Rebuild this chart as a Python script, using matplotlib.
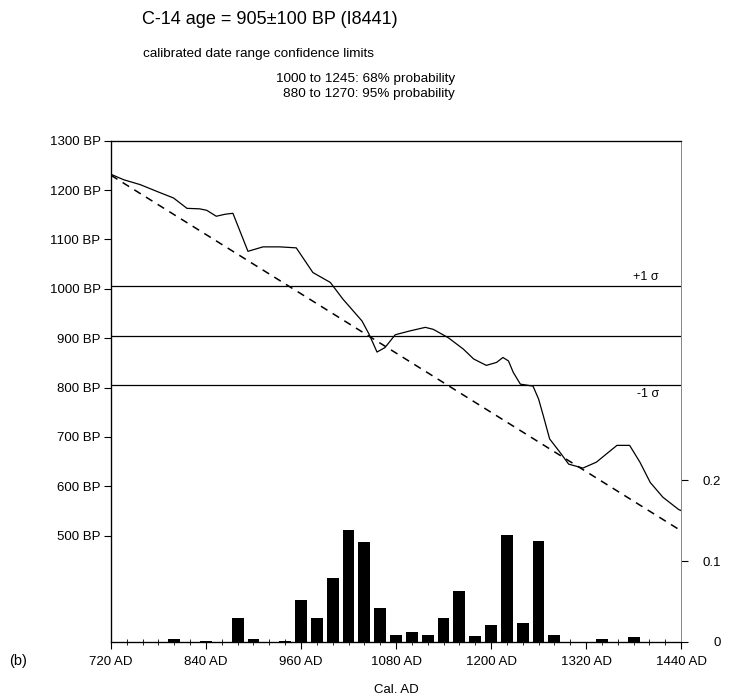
import numpy as np
import matplotlib
matplotlib.use("Agg")
import matplotlib.pyplot as plt
from matplotlib.ticker import MultipleLocator

plt.rcParams['font.family'] = ['Liberation Sans', 'DejaVu Sans']

# calibration curve (cal AD -> radiocarbon BP)
cal_ad = [720, 736, 757, 780, 799, 816, 832, 841, 853, 864, 874, 893, 912, 933,
          954, 975, 997, 1013, 1037, 1046, 1056, 1066, 1079, 1098, 1117, 1127,
          1146, 1165, 1178, 1194, 1207, 1215, 1222, 1228, 1237, 1253, 1260, 1266,
          1274, 1287, 1298, 1316, 1333, 1346, 1359, 1375, 1388, 1401, 1417, 1437, 1440]
curve_bp = [1232, 1221, 1211, 1196, 1184, 1163, 1162, 1159, 1147, 1151, 1153, 1076,
            1085, 1085, 1083, 1033, 1013, 979, 935, 908, 872, 881, 907, 915, 922, 918,
            901, 878, 858, 845, 851, 861, 854, 831, 807, 803, 777, 743, 696, 669, 645,
            637, 649, 666, 683, 683, 649, 608, 578, 553, 551]

# probability histogram (20-year bins)
bar_ad = [800, 840, 880, 900, 940, 960, 980, 1000, 1020, 1040, 1060, 1080, 1100,
          1120, 1140, 1160, 1180, 1200, 1220, 1240, 1260, 1280, 1340, 1380]
bar_prob = [0.003, 0.001, 0.030, 0.003, 0.001, 0.052, 0.030, 0.079, 0.138, 0.123,
            0.042, 0.008, 0.0125, 0.008, 0.030, 0.063, 0.0077, 0.021, 0.132, 0.023,
            0.125, 0.008, 0.003, 0.006]

c14_age = 905
c14_err = 100
lab_code = "I8441"
range_68 = (1000, 1245)
range_95 = (880, 1270)

bp_ticks = [500, 600, 700, 800, 900, 1000, 1100, 1200, 1300]
ad_ticks = [720, 840, 960, 1080, 1200, 1320, 1440]
prob_ticks = [0, 0.1, 0.2]

fig = plt.figure(figsize=(7.3, 7.0), dpi=100)
ax = fig.add_axes([0.152, 0.083, 0.781, 0.716])

# 1:1 line and calibration curve
line_ad = np.array([720, 1440])
ax.plot(line_ad, 1950 - line_ad, color='black', linestyle=(0, (5, 4)), linewidth=1.1)
ax.plot(cal_ad, curve_bp, color='black', linewidth=0.9)

# sigma lines
for lvl in (c14_age + c14_err, c14_age, c14_age - c14_err):
    ax.axhline(lvl, color='black', linewidth=0.9)
ax.text(1412, c14_age + c14_err + 6, "+1 σ", ha='right', va='bottom', fontsize=9)
ax.text(1412, c14_age - c14_err - 6, "-1 σ", ha='right', va='top', fontsize=9)

ax.set_xlim(720, 1440)
ax.set_ylim(285, 1300)
ax.set_xticks(ad_ticks)
ax.set_xticklabels([f"{v} AD" for v in ad_ticks])
ax.xaxis.set_minor_locator(MultipleLocator(20))
ax.set_yticks(bp_ticks)
ax.set_yticklabels([f"{v} BP" for v in bp_ticks])
ax.tick_params(axis='both', which='major', direction='out', length=5, width=0.8,
               labelsize=9.5, pad=2.5)
ax.tick_params(axis='x', which='major', pad=5)
ax.tick_params(axis='x', which='minor', direction='inout', length=4, width=0.6)
ax.set_xlabel("Cal. AD", fontsize=9.5, labelpad=12)

for s in ('left', 'bottom', 'top'):
    ax.spines[s].set_linewidth(0.9)
ax.spines['right'].set_color('#888888')
ax.spines['right'].set_linewidth(0.7)

ax2 = ax.twinx()
ax2.bar(bar_ad, bar_prob, width=15, color='black')
ax2.set_ylim(0, 0.62)
ax2.set_yticks(prob_ticks)
ax2.set_yticklabels(["0", "0.1", "0.2"])
ax2.tick_params(axis='y', direction='out', length=5, width=0.8, labelsize=9.5, pad=24)
for lbl in ax2.get_yticklabels():
    lbl.set_horizontalalignment('right')
ax2.spines['right'].set_color('#888888')
ax2.spines['right'].set_linewidth(0.7)

fig.text(142 / 730, 1 - 20 / 700, f"C-14 age = {c14_age}±{c14_err} BP ({lab_code})",
         fontsize=13, va='center', ha='left')
fig.text(143 / 730, 1 - 54 / 700, "calibrated date range confidence limits",
         fontsize=9.7, va='center', ha='left')
fig.text(455 / 730, 1 - 79 / 700, f"{range_68[0]} to {range_68[1]}: 68% probability",
         fontsize=9.7, va='center', ha='right')
fig.text(455 / 730, 1 - 94 / 700, f"{range_95[0]} to {range_95[1]}: 95% probability",
         fontsize=9.7, va='center', ha='right')
fig.text(9 / 730, 1 - 661 / 700, "(b)", fontsize=10.5, va='center', ha='left')

fig.savefig("out.png", dpi=100)
